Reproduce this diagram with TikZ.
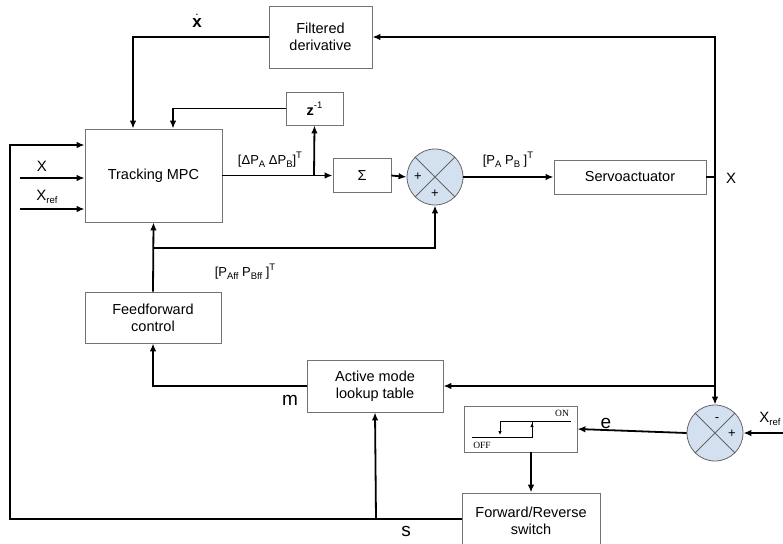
\documentclass[tikz,border=0pt]{standalone}
\usepackage{fontspec}
\setmainfont{Liberation Sans}
\newfontfamily\seriffont{Liberation Serif}
\usetikzlibrary{arrows.meta,shapes.geometric,calc}
\newcommand{\sbx}[1]{\raisebox{-0.45ex}{\fontsize{9.5}{9.5}\selectfont #1}}
\newcommand{\spx}[1]{\raisebox{0.9ex}{\fontsize{9.5}{9.5}\selectfont #1}}
\begin{document}
\begin{tikzpicture}[x=1pt,y=-1pt,
  blk/.style={draw=black!55, line width=0.8pt, fill=white, align=center, inner sep=0pt,
     font=\fontsize{14.5}{17}\selectfont},
  sumc/.style={circle, draw=black!60, line width=0.8pt, fill=sumfill, minimum size=56pt, inner sep=0pt},
  wire/.style={line width=1.8pt, black},
  arr/.style={wire, -{Latex[length=8pt,width=6.5pt]}},
  lbl/.style={font=\fontsize{15}{17}\selectfont, inner sep=0pt},
  big/.style={font=\fontsize{19}{21}\selectfont, inner sep=0pt},
  sig/.style={font=\fontsize{13}{15}\selectfont, inner sep=0pt}]
\definecolor{sumfill}{RGB}{210,224,240}
\useasboundingbox (0,0) rectangle (783,543);

% blocks
\node[blk, minimum width=103pt, minimum height=62pt] (fd) at (320.5,37) {Filtered\\derivative};
\node[blk, minimum width=57pt, minimum height=33pt] (z) at (314.5,108.5) {\textbf{z}\spx{-1}};
\node[blk, minimum width=137pt, minimum height=93pt] (mpc) at (153.5,175.5) {Tracking MPC};
\node[blk, minimum width=58pt, minimum height=34pt] (sg) at (362,175.5) {Σ};
\node[sumc] (s1) at (435,177) {};
\node[blk, minimum width=152pt, minimum height=34pt] (servo) at (630,177) {Servoactuator};
\node[blk, minimum width=136pt, minimum height=51pt] (ff) at (153,317.5) {Feedforward\\control};
\node[blk, minimum width=136pt, minimum height=52pt] (am) at (375,386) {Active mode\\lookup table};
\node[blk, minimum width=113pt, minimum height=46pt] (hys) at (520.5,429) {};
\node[sumc] (s2) at (715,433) {};
\node[blk, minimum width=138pt, minimum height=56pt] (fr) at (531,521) {Forward/Reverse\\switch};

% summing junction crosses and signs
\draw[black!60, line width=0.8pt] (s1.north east) -- (s1.south west) (s1.north west) -- (s1.south east);
\draw[black!60, line width=0.8pt] (s2.north east) -- (s2.south west) (s2.north west) -- (s2.south east);
\node[sig] (p1) at (418,177) {+};
\node[sig] (p2) at (435,194) {+};
\node[sig] (m2) at (717,420) {-};
\node[sig] (p3) at (732,434) {+};

% hysteresis symbol
\coordinate (h1) at (472,437);
\coordinate (h2) at (532,437);
\coordinate (h3) at (532,421);
\coordinate (h4) at (571,421);
\coordinate (h5) at (500,421);
\coordinate (h6) at (500,437);
\draw[line width=1pt] (h1) -- (h2) -- (h3);
\draw[line width=1pt] (h5) -- (h4);
\draw[line width=1pt, -{Latex[length=4pt,width=3.5pt]}] (h2) -- ($(h3)+(0,2)$);
\draw[line width=1pt, -{Latex[length=4pt,width=3.5pt]}] (h5) -- ($(h6)-(0,2)$);
\node[font=\seriffont\fontsize{9.5}{10}\selectfont, inner sep=0pt] (on) at (562,413) {ON};
\node[font=\seriffont\fontsize{9.5}{10}\selectfont, inner sep=0pt] (off) at (482,445) {OFF};

% coordinates
\coordinate (jx) at (715,177);
\coordinate (tr) at (715,37);
\coordinate (ja) at (715,386);
\coordinate (jz) at (314,175.5);
\coordinate (jf) at (153,248);
\coordinate (jfr) at (435,248);
\coordinate (bl) at (10,519);
\coordinate (tl) at (10,145);
\coordinate (js) at (376,519);
\coordinate (xin) at (20,178);
\coordinate (xrin) at (20,209);
\coordinate (xr2) at (783,433);

% connectors
\draw[wire] (servo.east) -- (jx);
\draw[arr] (jx) -- (tr) -- (fd.east);
\draw[arr] (jx) -- (s2.north);
\draw[arr] (ja) -- (am.east);
\draw[arr] (fd.west) -| (mpc.north -| 133,0);
\draw[arr] (z.west) -| (mpc.north -| 173,0);
\draw[arr] (mpc.east |- jz) -- (sg.west);
\draw[arr] (jz) -- (z.south);
\draw[arr] (sg.east) -- (s1.west);
\draw[arr] (s1.east) -- (servo.west);
\draw[arr] (ff.north) -- (mpc.south);
\draw[arr] (jf) -- (jfr) -- (s1.south);
\draw[arr] (am.west) -| (ff.south);
\draw[arr] (s2.west) -- (hys.east);
\draw[arr] (xr2) -- (s2.east);
\draw[arr] (hys.south -| fr.north) -- (fr.north);
\draw[arr] (fr.west |- bl) -- (bl) -- (tl) -- (mpc.west |- tl);
\draw[arr] (js) -- (am.south);
\draw[arr] (xin) -- (mpc.west |- xin);
\draw[arr] (xrin) -- (mpc.west |- xrin);

% labels
\node[font=\fontsize{17}{19}\selectfont, inner sep=0pt] (xdot) at (197,21) {$\dot{\mathbf{x}}$};
\node[lbl] (lx) at (42,166) {X};
\node[lbl] (lxr) at (47,197) {X\sbx{ref}};
\node[lbl] (lx2) at (731,178) {X};
\node[lbl] (lxr2) at (770,419) {X\sbx{ref}};
\node[sig] (ldp) at (270,160) {[ΔP\sbx{A} ΔP\sbx{B}]\spx{T}};
\node[sig] (lp) at (508,160) {[P\sbx{A} P\sbx{B} ]\spx{T}};
\node[sig] (lpff) at (245,272) {[P\sbx{Aff} P\sbx{Bff} ]\spx{T}};
\node[big] (lm) at (290,400) {m};
\node[big] (le) at (606,423) {e};
\node[big] (ls) at (406,531) {s};
\end{tikzpicture}
\end{document}
